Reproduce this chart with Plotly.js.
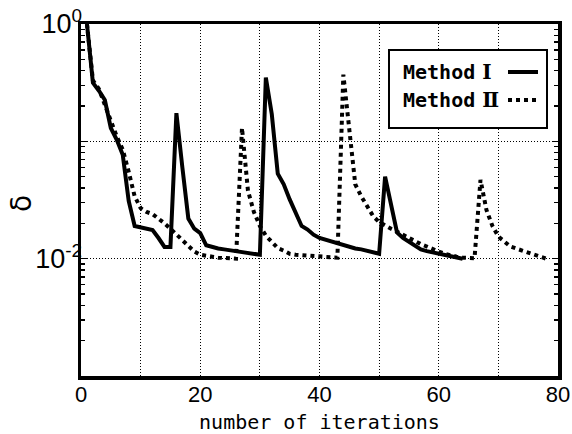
<!DOCTYPE html>
<html>
<head>
<meta charset="utf-8">
<script src="https://cdn.plot.ly/plotly-3.0.1.min.js"></script>
<style>html,body{margin:0;padding:0;background:#fff;}#chart{width:572px;height:434px;}</style>
</head>
<body>
<div id="chart"></div>
<script>
// ---- data ----
var iterI = [1,2,3,4,5,6,7,8,9,10,11,12,13,14,15,16,17,18,19,20,21,22,23,24,25,26,27,28,29,30,31,32,33,34,35,36,37,38,39,40,41,42,43,44,45,46,47,48,49,50,51,52,53,54,55,56,57,58,59,60,61,62,63,64];
var deltaI = [1.0,0.315,0.27,0.225,0.13,0.103,0.077,0.031,0.019,0.0186,0.018,0.0175,0.015,0.0126,0.0126,0.174,0.06,0.022,0.018,0.0165,0.013,0.0125,0.0122,0.012,0.0118,0.0116,0.0114,0.0112,0.011,0.0108,0.35,0.17,0.053,0.043,0.032,0.025,0.019,0.0177,0.016,0.015,0.0145,0.014,0.0135,0.013,0.0125,0.0122,0.012,0.0117,0.0113,0.011,0.050,0.028,0.0167,0.015,0.014,0.013,0.012,0.0116,0.0113,0.011,0.0107,0.0104,0.0102,0.0100];

var iterII = [1,2,3,4,5,6,7,8,9,10,11,12,13,14,15,16,17,18,19,20,21,22,23,24,25,26,27,28,29,30,31,32,33,34,35,36,37,38,39,40,41,42,43,44,45,46,47,48,49,50,51,52,53,54,55,56,57,58,59,60,61,62,63,64,65,66,67,68,69,70,71,72,73,74,75,76,77,78];
var deltaII = [1.0,0.33,0.28,0.21,0.15,0.11,0.085,0.055,0.034,0.027,0.025,0.024,0.022,0.020,0.018,0.016,0.0145,0.0126,0.0115,0.0108,0.0105,0.0104,0.0102,0.0101,0.0100,0.0100,0.13,0.038,0.025,0.019,0.0157,0.014,0.0123,0.0117,0.011,0.0108,0.0107,0.0106,0.0105,0.0104,0.0103,0.0102,0.0102,0.37,0.12,0.043,0.034,0.028,0.023,0.0205,0.019,0.018,0.017,0.016,0.015,0.014,0.0133,0.0127,0.012,0.0115,0.011,0.0106,0.0104,0.0102,0.0101,0.0101,0.047,0.026,0.019,0.0154,0.014,0.0127,0.0122,0.0117,0.0112,0.0108,0.0104,0.0100];

var seriesLabel = "Method";
var seriesNumerals = ["\u2160", "\u2161"];
var xTickVals = [0,20,40,60,80];
var yTickVals = [1,0.1,0.01,0.001];
var yTickText = ["10<sup>0</sup>","","10<sup>-2</sup>",""];

// minor log ticks (2..9 in each decade)
var yMinor = [];
[0.001,0.01,0.1].forEach(function(d){ for (var k=2;k<=9;k++) yMinor.push(d*k); });

var traces = [
  {x: iterI, y: deltaI, type:'scatter', mode:'lines', name: seriesLabel + seriesNumerals[0],
   line:{color:'#000', width:4}, showlegend:false},
  {x: iterII, y: deltaII, type:'scatter', mode:'lines', name: seriesLabel + seriesNumerals[1],
   line:{color:'#000', width:4, dash:'dot'}, showlegend:false}
];

var L = 81, R = 558, T = 24, B = 376;
function px(x){ return (x - L)/(R - L); }
function py(y){ return (B - y)/(B - T); }

var mono = "DejaVu Sans Mono, Noto Sans CJK JP, monospace";
var sans = "Liberation Sans, Arial, sans-serif";
var gridDash = "1px,2px";

function legendText(i){
  return '<b>' + seriesLabel + '</b><span style="font-family:DejaVu Serif, serif;font-weight:bold"> ' + seriesNumerals[i] + '</span>';
}

var layout = {
  width: 572, height: 434,
  margin: {l: L, r: 572 - R, t: T, b: 434 - B, pad: 0},
  paper_bgcolor: '#fff', plot_bgcolor: '#fff',
  showlegend: false,
  xaxis: {
    range: [0, 80], tickmode:'array', tickvals: xTickVals,
    ticks: '', showline: true, linewidth: 3.5, linecolor: '#000', mirror: true,
    showgrid: true, gridcolor: '#000', gridwidth: 1, griddash: gridDash,
    minor: {tickmode:'array', tickvals:[10,30,50,70], showgrid: true, gridcolor:'#000', gridwidth:1, griddash: gridDash, ticks:''},
    zeroline: false,
    tickfont: {family: sans, size: 22, color: '#000'},
    ticklabelstandoff: -4,
    title: {text: 'number of iterations', font: {family: mono, size: 20, color: '#000'}, standoff: 21}
  },
  yaxis: {
    type: 'log', range: [-3, 0],
    tickmode: 'array', tickvals: yTickVals, ticktext: yTickText,
    ticks: 'inside', ticklen: 6, tickwidth: 1.5, tickcolor: '#000',
    showline: true, linewidth: 3.5, linecolor: '#000', mirror: 'allticks',
    showgrid: true, gridcolor: '#000', gridwidth: 1, griddash: gridDash,
    minor: {tickmode:'array', tickvals: yMinor, ticks:'inside', ticklen: 4, tickwidth: 1.5, tickcolor:'#000', showgrid:false},
    zeroline: false,
    tickfont: {family: sans, size: 27, color: '#000'},
    ticklabelstandoff: -10
  },
  shapes: [
    {type:'rect', xref:'paper', yref:'paper', x0: px(389), x1: px(547), y0: py(128), y1: py(50),
     line:{color:'#000', width:2}, fillcolor:'#fff', layer:'above'},
    {type:'line', xref:'paper', yref:'paper', x0: px(508), x1: px(538), y0: py(72), y1: py(72),
     line:{color:'#000', width:4}, layer:'above'},
    {type:'line', xref:'paper', yref:'paper', x0: px(508), x1: px(538), y0: py(100), y1: py(100),
     line:{color:'#000', width:4, dash:'dot'}, layer:'above'}
  ],
  annotations: [
    {xref:'paper', yref:'paper', x: px(401), y: py(72), xanchor:'left', yanchor:'middle',
     text: legendText(0), showarrow:false, font:{family: mono, size: 20, color:'#000'}},
    {xref:'paper', yref:'paper', x: px(401), y: py(100), xanchor:'left', yanchor:'middle',
     text: legendText(1), showarrow:false, font:{family: mono, size: 20, color:'#000'}},
    {xref:'paper', yref:'paper', x: px(21), y: py(204), xanchor:'center', yanchor:'middle',
     text: 'δ', textangle: -90, showarrow:false, font:{family: 'DejaVu Sans, sans-serif', size: 28, color:'#000'}}
  ]
};

Plotly.newPlot('chart', traces, layout, {displayModeBar: false, staticPlot: true});
</script>
</body>
</html>
